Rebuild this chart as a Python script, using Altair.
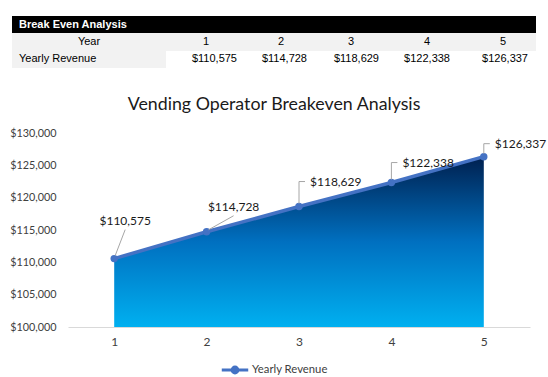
import altair as alt
import pandas as pd

# ---- data ----
years = [1, 2, 3, 4, 5]
revenue = [110575, 114728, 118629, 122338, 126337]
series_name = "Yearly Revenue"
y_ticks = [100000, 105000, 110000, 115000, 120000, 125000, 130000]
table_title = "Break Even Analysis"
row_labels = ["Year", "Yearly Revenue"]
chart_title = "Vending Operator Breakeven Analysis"

df = pd.DataFrame({"year": years, "rev": revenue, "series": [series_name] * len(years)})
df["label"] = df["rev"].map(lambda v: "${:,.0f}".format(v))

# ---- style / layout constants ----
FONT = "Lato"
TFONT = "Liberation Sans"
LINE_COLOR = "#4472c4"
LEADER = "#a6a6a6"
W, H = 462, 194
PAD = {"left": 68, "top": 133, "right": 18, "bottom": 50}

# label placement (pixel offsets from point): (label dx, label dy, align, leader segments)
LABEL_STYLE = [
    (11, -38, "center", [((1, -3), (11, -29))]),
    (27, -25, "center", [((2, -2), (27, -16))]),
    (11, -25, "left", [((0, -3), (0, -25)), ((0, -25), (6, -25))]),
    (11, -20, "left", [((0, -3), (0, -20)), ((0, -20), (6, -20))]),
    (11, -13, "left", [((0, -3), (0, -13)), ((0, -13), (6, -13))]),
]

# table layout (page pixel positions, converted to plot-relative)
OX, OY = 68, 133
COL_CENTER = [206, 281, 351, 427, 503]
COL_RIGHT = [237, 307, 379, 450, 528]

xs = alt.X("year:O", scale=alt.Scale(type="point", padding=0.5),
           axis=alt.Axis(title=None, labelAngle=0, ticks=False, grid=False,
                         domainColor="#d9d9d9", domainWidth=1, labelPadding=9,
                         labelFont=FONT, labelFontSize=12, labelColor="#404040"))
ys = alt.Y("rev:Q", scale=alt.Scale(domain=[100000, 130000], nice=False, zero=False),
           axis=alt.Axis(title=None, values=y_ticks, format="$,.0f", domain=False,
                         ticks=False, grid=False, labelPadding=12,
                         labelFont=FONT, labelFontSize=10.8, labelColor="#404040"))

base = alt.Chart(df)

gradient = alt.Gradient(
    gradient="linear",
    stops=[alt.GradientStop(color="#00204f", offset=0),
           alt.GradientStop(color="#0070c0", offset=0.5),
           alt.GradientStop(color="#00b0f0", offset=1)],
    x1=0, x2=0, y1=0, y2=1,
)

area = base.mark_area(color=gradient).encode(x=xs, y=ys, y2=alt.datum(100000))
line = base.mark_line(strokeWidth=3.5).encode(
    x=xs, y=ys,
    color=alt.Color("series:N", scale=alt.Scale(range=[LINE_COLOR]),
                    legend=alt.Legend(title=None, orient="none", legendX=152, legendY=222,
                                      symbolType="M-1,0H1M-0.22,0A0.22,0.22,0,1,0,0.22,0A0.22,0.22,0,1,0,-0.22,0Z",
                                      symbolSize=700, symbolStrokeWidth=3,
                                      symbolFillColor=LINE_COLOR, symbolStrokeColor=LINE_COLOR,
                                      labelFont=FONT, labelFontSize=11.3, labelColor="#404040",
                                      padding=0, labelOffset=2)))
points = base.mark_point(filled=True, size=55, opacity=1).encode(
    x=xs, y=ys, color=alt.Color("series:N", legend=None))

layers = [area, line, points]

for i, (dx, dy, align, segs) in enumerate(LABEL_STYLE):
    sub = base.transform_filter(alt.datum.year == years[i])
    for (a, b) in segs:
        layers.append(sub.mark_rule(color=LEADER, strokeWidth=1,
                                    xOffset=a[0], yOffset=a[1],
                                    x2Offset=b[0], y2Offset=b[1]).encode(
            x=xs, y=ys, x2=alt.X2("year"), y2=alt.Y2("rev")))
    layers.append(sub.mark_text(dx=dx, dy=dy, align=align, baseline="middle",
                                font=FONT, fontSize=12, color="#1a1a1a").encode(
        x=xs, y=ys, text="label:N"))

# ---- table above chart and chart title ----
one = alt.Chart(pd.DataFrame({"k": [0]}))
def rect(x0, x1, y0, y1, color):
    return one.mark_rect(color=color).encode(
        x=alt.value(x0 - OX), x2=alt.value(x1 - OX),
        y=alt.value(y0 - OY), y2=alt.value(y1 - OY))

layers.append(rect(12, 536, 16, 33, "#000000"))
layers.append(rect(12, 536, 33, 51, "#f2f2f2"))
layers.append(rect(12, 166, 51, 68, "#f2f2f2"))

def ttext(txt, x, y, align, bold=False, color="#000000", font=TFONT, size=11):
    return one.mark_text(text=txt, align=align, baseline="middle", font=font,
                         fontSize=size, fontWeight="bold" if bold else "normal",
                         color=color).encode(x=alt.value(x - OX), y=alt.value(y - OY))

layers.append(ttext(table_title, 19, 25, "left", bold=True, color="#ffffff"))
layers.append(ttext(row_labels[0], 89, 42, "center"))
layers.append(ttext(row_labels[1], 19, 59, "left"))
for i in range(len(years)):
    layers.append(ttext(str(years[i]), COL_CENTER[i], 42, "center"))
    layers.append(ttext(df["label"][i], COL_RIGHT[i], 59, "right"))

layers.append(ttext(chart_title, 274, 105, "center", color="#1a1a1a", font=FONT, size=17.8))

chart = alt.layer(*layers).properties(
    width=W, height=H,
    autosize=alt.AutoSizeParams(type="none"),
    padding=PAD,
    background="white",
).configure_view(stroke=None)

chart.save("out.html", embed_options={"renderer": "svg", "actions": False})
